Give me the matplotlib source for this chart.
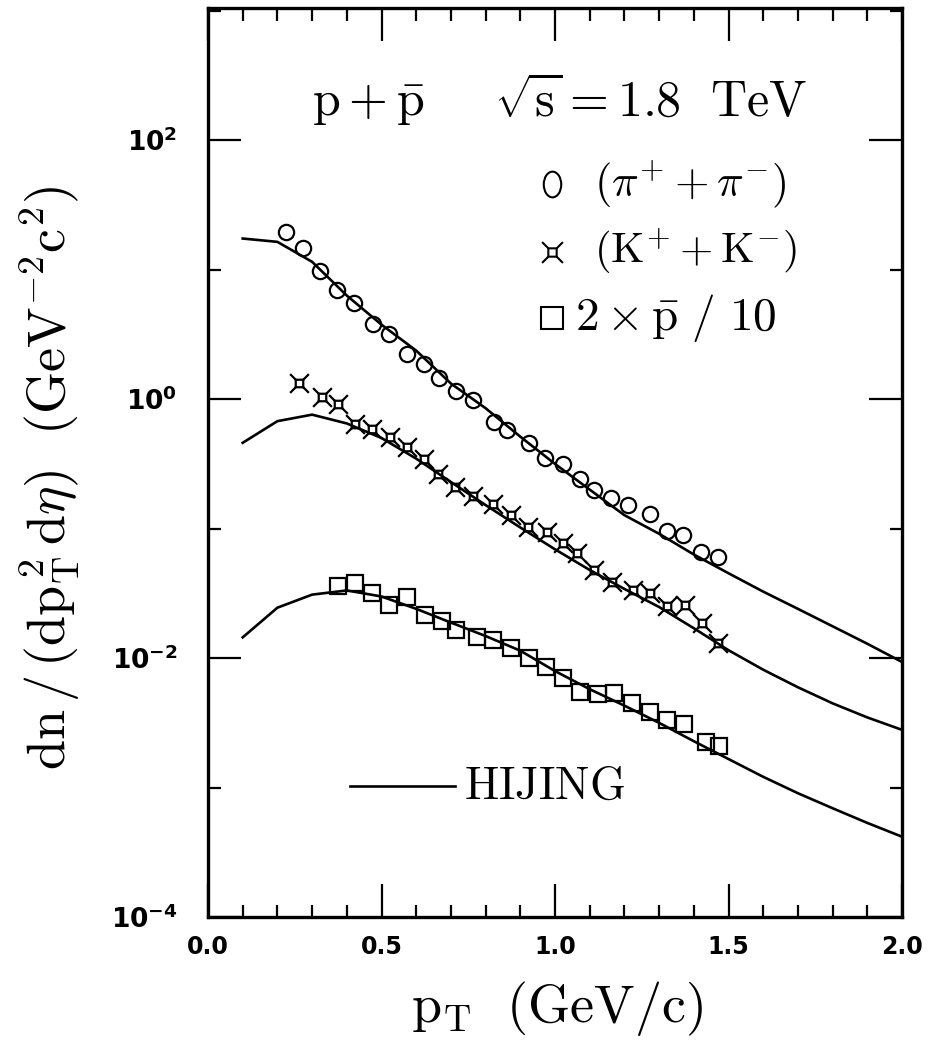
import numpy as np
import matplotlib
matplotlib.use("Agg")
import matplotlib.pyplot as plt
from matplotlib.path import Path
from matplotlib.ticker import FixedLocator, NullFormatter

plt.rcParams['mathtext.fontset'] = 'cm'

# ---------------- data ----------------
pion_pt = [0.225, 0.273, 0.323, 0.373, 0.422, 0.475, 0.523, 0.574, 0.622, 0.667, 0.715, 0.765,
           0.824, 0.863, 0.925, 0.971, 1.022, 1.072, 1.113, 1.161, 1.209, 1.274, 1.322, 1.370,
           1.421, 1.471]
pion_y = [19.6, 14.6, 9.8, 7.0, 5.5, 3.8, 3.2, 2.22, 1.88, 1.46, 1.15, 0.98,
          0.67, 0.58, 0.46, 0.352, 0.318, 0.241, 0.198, 0.171, 0.153, 0.129, 0.0957, 0.0891,
          0.0655, 0.0606]

kaon_pt = [0.262, 0.328, 0.374, 0.424, 0.472, 0.524, 0.574, 0.622, 0.664, 0.712, 0.763, 0.820,
           0.872, 0.923, 0.976, 1.024, 1.062, 1.113, 1.163, 1.224, 1.274, 1.322, 1.375, 1.423,
           1.471]
kaon_y = [1.34, 1.03, 0.914, 0.648, 0.583, 0.512, 0.429, 0.342, 0.262, 0.210, 0.178, 0.156,
          0.127, 0.103, 0.0944, 0.0777, 0.0643, 0.0478, 0.0389, 0.0335, 0.0316, 0.0252, 0.0256,
          0.0185, 0.0130]

proton_pt = [0.376, 0.424, 0.472, 0.523, 0.573, 0.625, 0.673, 0.715, 0.774, 0.822, 0.873, 0.926,
             0.973, 1.022, 1.072, 1.123, 1.171, 1.221, 1.274, 1.322, 1.373, 1.435, 1.474]
proton_y = [0.0360, 0.0381, 0.0316, 0.0259, 0.0294, 0.0215, 0.0194, 0.0164, 0.0146, 0.0139,
            0.0119, 0.0100, 0.00855, 0.00703, 0.00549, 0.00524, 0.00533, 0.00452, 0.00385,
            0.00332, 0.00309, 0.00226, 0.00209]

hijing_pt = [0.1, 0.2, 0.3, 0.4, 0.5, 0.6, 0.7, 0.8, 0.9, 1.0,
             1.1, 1.2, 1.3, 1.4, 1.5, 1.6, 1.7, 1.8, 1.9, 2.0]
hijing_pion = [17.4, 16.4, 11.5, 6.31, 3.76, 2.37, 1.32, 0.851, 0.513, 0.316,
               0.200, 0.127, 0.0912, 0.0631, 0.0452, 0.0326, 0.0240, 0.0176, 0.0129, 0.00933]
hijing_kaon = [0.460, 0.676, 0.759, 0.649, 0.501, 0.347, 0.229, 0.152, 0.102, 0.0692,
               0.0479, 0.0342, 0.0248, 0.0170, 0.0115, 0.00813, 0.00595, 0.00447, 0.00348, 0.00279]
hijing_proton = [0.01445, 0.0245, 0.0309, 0.0333, 0.0299, 0.0240, 0.0188, 0.0148, 0.0114, 0.00794,
                 0.00575, 0.00429, 0.00316, 0.00228, 0.00166, 0.00121, 0.000904, 0.000692,
                 0.000533, 0.000417]

xticks = [0.0, 0.5, 1.0, 1.5, 2.0]
xtick_labels = ["0.0", "0.5", "1.0", "1.5", "2.0"]
yticks = [1e-4, 1e-2, 1e0, 1e2]
ytick_labels = [r"$\mathbf{10^{-4}}$", r"$\mathbf{10^{-2}}$", r"$\mathbf{10^{0}}$", r"$\mathbf{10^{2}}$"]

# ---------------- custom markers ----------------
def kaon_marker(a=0.4):
    verts = [(-a, -a), (a, -a), (a, a), (-a, a), (-a, -a)]
    codes = [Path.MOVETO, Path.LINETO, Path.LINETO, Path.LINETO, Path.CLOSEPOLY]
    for sx, sy in [(1, 1), (1, -1), (-1, 1), (-1, -1)]:
        verts += [(sx * a, sy * a), (sx * 1.0, sy * 1.0)]
        codes += [Path.MOVETO, Path.LINETO]
    return Path(verts, codes)

def oval_marker(ratio=0.68):
    c = Path.unit_circle()
    v = c.vertices.copy()
    v[:, 0] *= ratio
    return Path(v, c.codes)

kmark = kaon_marker(0.4)
omark = oval_marker(0.68)

# ---------------- figure ----------------
fig = plt.figure(figsize=(9.30, 10.41), dpi=100)
ax = fig.add_axes([208 / 930, 124 / 1041, 694 / 930, 909 / 1041])

lw_curve = 1.9
ax.plot(hijing_pt, hijing_pion, color='black', lw=lw_curve, zorder=2)
ax.plot(hijing_pt, hijing_kaon, color='black', lw=lw_curve, zorder=2)
ax.plot(hijing_pt, hijing_proton, color='black', lw=lw_curve, zorder=2)

mew = 1.6
ax.plot(pion_pt, pion_y, ls='none', marker='o', ms=11, mfc='none', mec='black', mew=mew, zorder=3)
ax.plot(kaon_pt, kaon_y, ls='none', marker=kmark, ms=13.5, mfc='none', mec='black', mew=mew, zorder=3)
ax.plot(proton_pt, proton_y, ls='none', marker='s', ms=11, mfc='none', mec='black', mew=mew, zorder=3)

ax.set_yscale('log')
ax.set_xlim(0.0, 2.0)
ax.set_ylim(1e-4, 1.05e3)

ax.set_xticks(xticks, labels=xtick_labels, fontsize=17, fontweight='bold', family='DejaVu Sans')
ax.xaxis.set_minor_locator(FixedLocator(np.arange(0.1, 2.0, 0.1)))
ax.set_yticks(yticks, labels=ytick_labels, fontsize=19, math_fontfamily='dejavusans')
ax.yaxis.set_minor_locator(FixedLocator([1e-3, 1e-1, 1e1, 1e3]))
ax.yaxis.set_minor_formatter(NullFormatter())

ax.tick_params(which='both', direction='in', top=True, right=True, color='black')
ax.tick_params(which='major', length=24, width=1.6)
ax.tick_params(which='minor', length=9, width=1.6)
ax.tick_params(axis='x', which='major', pad=13)
ax.tick_params(axis='y', which='major', pad=22)

for sp in ax.spines.values():
    sp.set_linewidth(2.4)

ax.set_xlabel(r'$\mathrm{p_T\ \ (GeV/c)}$', fontsize=39)
ax.xaxis.set_label_coords((557 - 208) / 694, (917 - 1008) / 909)
ax.xaxis.label.set_va('center')
ax.set_ylabel(r'$\mathrm{dn\,/\,(dp_T^{\,2}\,d\eta)\ \ (GeV^{-2}c^{2})}$', fontsize=39)
ax.yaxis.set_label_coords((50 - 208) / 694, (917 - 478) / 909)
ax.yaxis.label.set_va('center')

# title-like annotation
yb = (917 - 116) / 909
ax.text((312 - 208) / 694, yb, r'$\mathrm{p+\bar{p}}$', transform=ax.transAxes,
        fontsize=36, ha='left', va='baseline')
ax.text((494 - 208) / 694, yb, r'$\sqrt{\mathrm{s}}=\mathrm{1.8\ \ TeV}$', transform=ax.transAxes,
        fontsize=36, ha='left', va='baseline')

# manual legend
leg_x = (552 - 208) / 694
rows = [(184, omark, 18.5, 594, 32, r'$\mathrm{(\pi^{+}+\pi^{-})}$'),
        (252, kmark, 15, 594, 31, r'$\mathrm{(K^{+}+K^{-})}$'),
        (318, 's', 16, 575, 34, r'$\mathrm{2\times\bar{p}\ /\ 10}$')]
for py, mk, ms, tx, fs, label in rows:
    yy = (917 - py) / 909
    ax.plot([leg_x], [yy], transform=ax.transAxes, ls='none', marker=mk, ms=ms,
            mfc='none', mec='black', mew=1.5, clip_on=False)
    ax.text((tx - 208) / 694, yy, label, transform=ax.transAxes, fontsize=fs,
            ha='left', va='center')

hy = (917 - 786) / 909
ax.plot([(350 - 208) / 694, (455 - 208) / 694], [hy, hy], transform=ax.transAxes,
        color='black', lw=lw_curve)
ax.text((464 - 208) / 694, hy, r'$\mathrm{HIJING}$', transform=ax.transAxes,
        fontsize=33, ha='left', va='center')

fig.savefig('out.png', dpi=100)
